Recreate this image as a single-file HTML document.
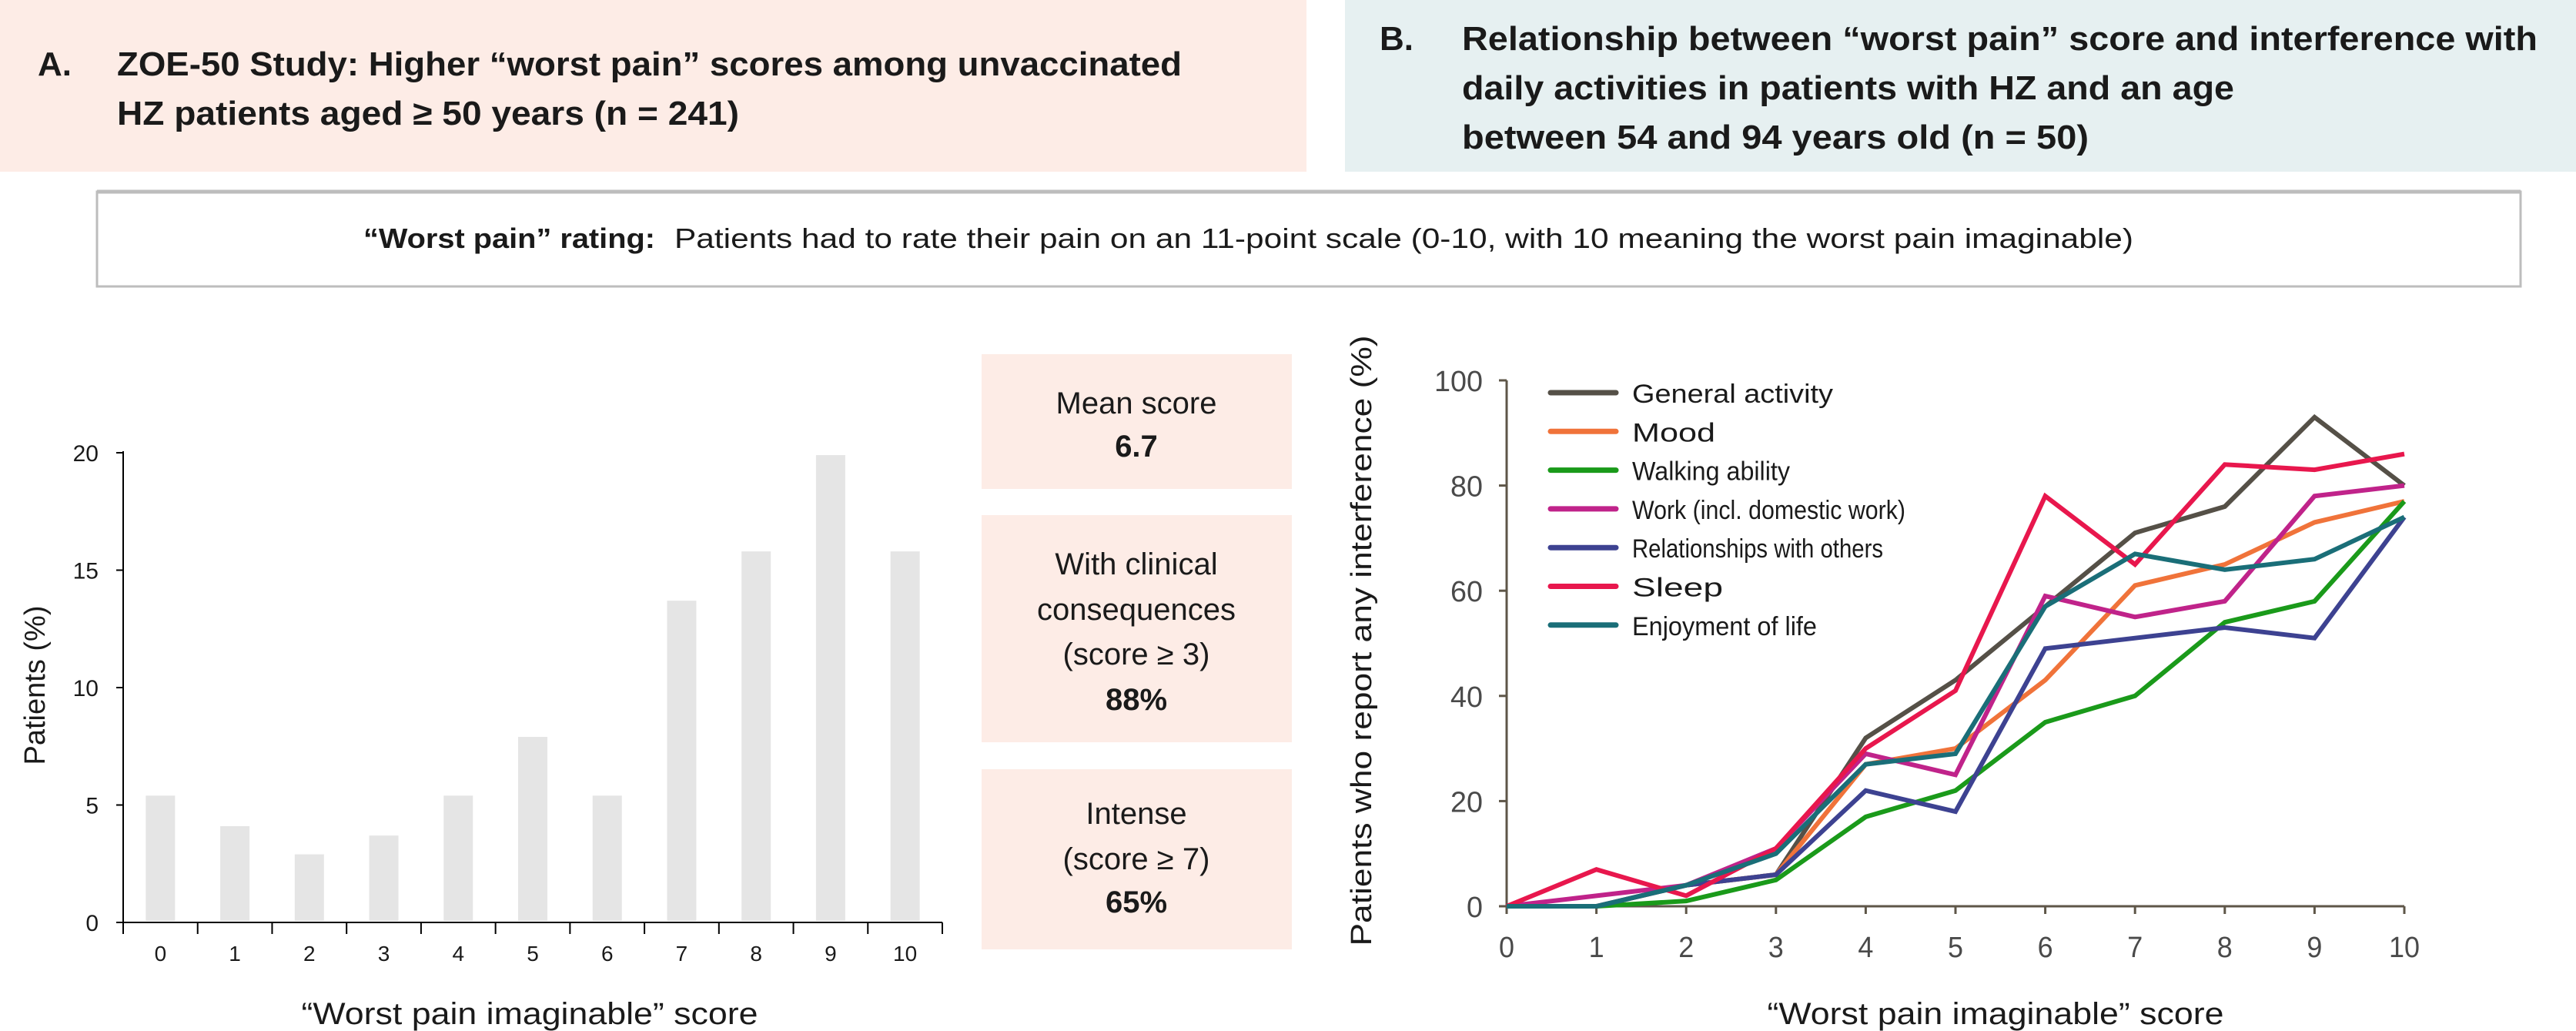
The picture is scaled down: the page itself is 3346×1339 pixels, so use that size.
<!DOCTYPE html>
<html><head><meta charset="utf-8"><style>
html,body{margin:0;padding:0;background:#fff;}
svg{display:block;font-family:"Liberation Sans",sans-serif;}
</style></head><body>
<svg id="root" width="3346" height="1339" viewBox="0 0 3346 1339" xmlns="http://www.w3.org/2000/svg">
  <rect x="0" y="0" width="1697" height="223" fill="#fdece6"/>
  <g font-weight="bold" font-size="44" fill="#1a1a1a">
    <text x="49" y="98">A.</text>
    <text x="152" y="98" textLength="1383" lengthAdjust="spacingAndGlyphs">ZOE-50 Study: Higher “worst pain” scores among unvaccinated</text>
    <text x="152" y="162" textLength="808" lengthAdjust="spacingAndGlyphs">HZ patients aged ≥ 50 years (n = 241)</text>
  </g>
  <rect x="1747" y="0" width="1599" height="223" fill="#e6f0f1"/>
  <g font-weight="bold" font-size="44" fill="#1a1a1a">
    <text x="1792" y="65">B.</text>
    <text x="1899" y="65" textLength="1397" lengthAdjust="spacingAndGlyphs">Relationship between “worst pain” score and interference with</text>
    <text x="1899" y="129" textLength="1003" lengthAdjust="spacingAndGlyphs">daily activities in patients with HZ and an age</text>
    <text x="1899" y="193" textLength="814" lengthAdjust="spacingAndGlyphs">between 54 and 94 years old (n = 50)</text>
  </g>
  <rect x="126" y="249" width="3148" height="123" fill="#fff" stroke="#bdbdbd" stroke-width="3"/>
  <line x1="126" y1="249" x2="3274" y2="249" stroke="#bdbdbd" stroke-width="5"/>
  <text y="322" font-size="36" fill="#1a1a1a"><tspan x="472" font-weight="bold" textLength="379" lengthAdjust="spacingAndGlyphs">“Worst pain” rating:</tspan><tspan x="876" textLength="1895" lengthAdjust="spacingAndGlyphs">Patients had to rate their pain on an 11-point scale (0-10, with 10 meaning the worst pain imaginable)</tspan></text>

  <g font-size="40" fill="#1a1a1a" text-anchor="middle">
    <rect x="1275" y="460" width="403" height="175" fill="#fdece6"/>
    <text x="1476" y="537">Mean score</text>
    <text x="1476" y="593" font-weight="bold">6.7</text>
    <rect x="1275" y="669" width="403" height="295" fill="#fdece6"/>
    <text x="1476" y="746">With clinical</text>
    <text x="1476" y="805">consequences</text>
    <text x="1476" y="863">(score ≥ 3)</text>
    <text x="1476" y="922" font-weight="bold">88%</text>
    <rect x="1275" y="999" width="403" height="234" fill="#fdece6"/>
    <text x="1476" y="1070">Intense</text>
    <text x="1476" y="1129">(score ≥ 7)</text>
    <text x="1476" y="1185" font-weight="bold">65%</text>
  </g>

  <g id="barchart"></g>
  <g id="linechart"></g>
</svg>
<script>
const NS="http://www.w3.org/2000/svg";
// Bar chart data
const barCategories=["0","1","2","3","4","5","6","7","8","9","10"];
const barValues=[5.4,4.1,2.9,3.7,5.4,7.9,5.4,13.7,15.8,19.9,15.8];
const barYTicks=[0,5,10,15,20];
// Line chart data
const lineCategories=[0,1,2,3,4,5,6,7,8,9,10];
const lineYTicks=[0,20,40,60,80,100];
const seriesNames=["General activity","Mood","Walking ability","Work (incl. domestic work)","Relationships with others","Sleep","Enjoyment of life"];
const generalActivity=[0,0,4,6,32,43,57,71,76,93,80];
const mood=[0,0,4,6,27,30,43,61,65,73,77];
const walkingAbility=[0,0,1,5,17,22,35,40,54,58,77];
const work=[0,2,4,11,29,25,59,55,58,78,80];
const relationships=[0,0,4,6,22,18,49,51,53,51,74];
const sleep=[0,7,2,11,30,41,78,65,84,83,86];
const enjoyment=[0,0,4,10,27,29,57,67,64,66,74];
const seriesValues=[generalActivity,mood,walkingAbility,work,relationships,sleep,enjoyment];
const seriesColors=["#555047","#f0733a","#1a9a1a","#c0238a","#3d4291","#e8174d","#1a6e78"];
const legendLengths=[261,108,205,355,326,118,240];

function el(tag,attrs,parent,text){const e=document.createElementNS(NS,tag);for(const k in attrs)e.setAttribute(k,attrs[k]);if(text!==undefined)e.textContent=text;parent.appendChild(e);return e;}

// ---- Bar chart ----
(function(){
  const g=document.getElementById('barchart');
  const x0=160,x1=1224,y0=1198,y1=588,ymax=20;
  const band=(x1-x0)/barCategories.length;
  const ys=v=>y0-(v/ymax)*(y0-y1);
  const xc=i=>x0+band*(i+0.5);
  barValues.forEach((v,i)=>{
    const r=el('rect',{x:xc(i)-19,y:ys(v),width:38,height:y0-ys(v)-2,fill:'#e5e5e5'},g);
    
    
  });
  el('line',{x1:x0,y1:y1-2,x2:x0,y2:y0+15,stroke:'#000','stroke-width':2},g);
  el('line',{x1:x0,y1:y0,x2:x1,y2:y0,stroke:'#000','stroke-width':2},g);
  barYTicks.forEach(t=>{
    el('line',{x1:x0-9,y1:ys(t),x2:x0,y2:ys(t),stroke:'#000','stroke-width':2},g);
    const tx=el('text',{x:128,y:ys(t)+11,'font-size':30,'text-anchor':'end',fill:'#1a1a1a'},g,String(t));
    
    
  });
  for(let i=0;i<=barCategories.length;i++){
    el('line',{x1:x0+band*i,y1:y0,x2:x0+band*i,y2:y0+15,stroke:'#000','stroke-width':2},g);
  }
  barCategories.forEach((c,i)=>{
    const tx=el('text',{x:xc(i),y:1248,'font-size':28,'text-anchor':'middle',fill:'#1a1a1a'},g,c);
    
    
  });
  const xt=el('text',{x:688,y:1330,'font-size':40,'text-anchor':'middle',fill:'#1a1a1a',textLength:593,lengthAdjust:'spacingAndGlyphs'},g,'“Worst pain imaginable” score');
  
  
  const yt=el('text',{x:0,y:0,'font-size':38,'text-anchor':'middle',fill:'#1a1a1a',transform:'translate(58,890) rotate(-90)'},g,'Patients (%)');
  
  
})();

// ---- Line chart ----
(function(){
  const g=document.getElementById('linechart');
  const x0=1957,x1=3123,y0=1177,y1=494,ymax=100;
  const xs=v=>x0+(v/10)*(x1-x0);
  const ys=v=>y0-(v/ymax)*(y0-y1);
  const ax='#5e5648';
  el('line',{x1:x0,y1:y1,x2:x0,y2:y0,stroke:ax,'stroke-width':3},g);
  el('line',{x1:x0,y1:y0,x2:x1,y2:y0,stroke:ax,'stroke-width':3},g);
  lineYTicks.forEach(t=>{
    el('line',{x1:x0-10,y1:ys(t),x2:x0,y2:ys(t),stroke:ax,'stroke-width':3},g);
    const tx=el('text',{x:1926,y:ys(t)+14,'font-size':38,'text-anchor':'end',fill:'#4a4a4a',textLength:t===100?63:(t===0?21:42),lengthAdjust:'spacingAndGlyphs'},g,String(t));
    
    
  });
  lineCategories.forEach(c=>{
    el('line',{x1:xs(c),y1:y0,x2:xs(c),y2:y0+10,stroke:ax,'stroke-width':3},g);
    const tx=el('text',{x:xs(c),y:1243,'font-size':38,'text-anchor':'middle',fill:'#4a4a4a',textLength:c===10?40:20,lengthAdjust:'spacingAndGlyphs'},g,String(c));
    
    
  });
  seriesValues.forEach((vals,si)=>{
    const pts=vals.map((v,i)=>xs(lineCategories[i])+','+ys(v)).join(' ');
    const p=el('polyline',{points:pts,fill:'none',stroke:seriesColors[si],'stroke-width':6,'stroke-linejoin':'miter'},g);
    
    
  });
  seriesNames.forEach((n,i)=>{
    const yy=510+i*50.3;
    const lg=el('g',{},g);
    
    
    el('line',{x1:2014,y1:yy,x2:2099,y2:yy,stroke:seriesColors[i],'stroke-width':7,'stroke-linecap':'round'},lg);
    el('text',{x:2120,y:yy+13,'font-size':34,fill:'#1a1a1a',textLength:legendLengths[i],lengthAdjust:'spacingAndGlyphs'},lg,n);
  });
  const xt=el('text',{x:2592,y:1330,'font-size':40,'text-anchor':'middle',fill:'#1a1a1a',textLength:593,lengthAdjust:'spacingAndGlyphs'},g,'“Worst pain imaginable” score');
  
  
  const yt=el('text',{x:0,y:0,'font-size':38,'text-anchor':'middle',fill:'#1a1a1a',textLength:793,lengthAdjust:'spacingAndGlyphs',transform:'translate(1781,832) rotate(-90)'},g,'Patients who report any interference (%)');
  
  
})();
</script>
</body></html>
